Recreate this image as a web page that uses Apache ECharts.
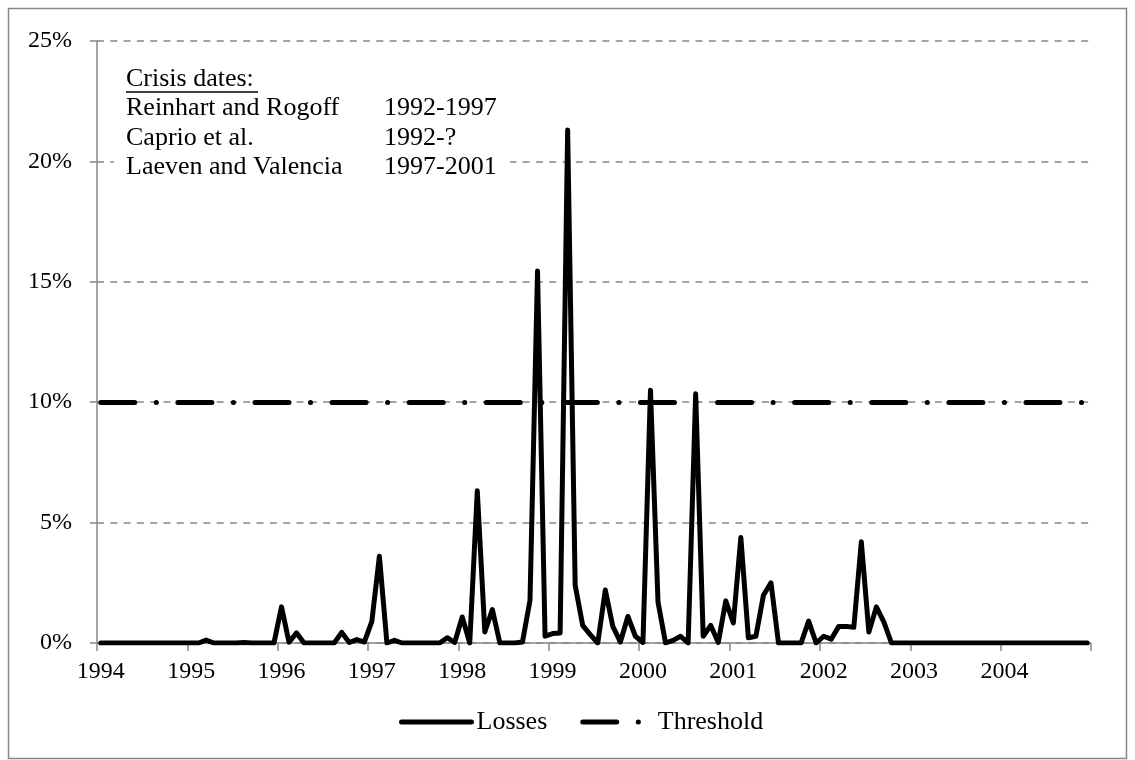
<!DOCTYPE html>
<html>
<head>
<meta charset="utf-8">
<script src="https://cdn.jsdelivr.net/npm/echarts@6/dist/echarts.min.js"></script>
<style>
  html, body { margin: 0; padding: 0; background: #fff; }
  #chart { width: 1135px; height: 760px; }
</style>
</head>
<body>
<div id="chart"></div>
<script>
// ---- Data (monthly, Jan 1994 – Dec 2004), losses in percent ----
const YEARS = ['1994','1995','1996','1997','1998','1999','2000','2001','2002','2003','2004'];
const MONTHS = ['01','02','03','04','05','06','07','08','09','10','11','12'];

const LOSSES_1994 = [0,0,0,0,0,0,0,0,0,0,0,0];
const LOSSES_1995 = [0,0,0.12,0,0,0,0,0.02,0,0,0,0];
const LOSSES_1996 = [1.5,0.03,0.42,0,0,0,0,0,0.44,0.02,0.14,0.04];
const LOSSES_1997 = [0.9,3.6,0,0.11,0,0,0,0,0,0,0.22,0.02];
const LOSSES_1998 = [1.08,0,6.32,0.46,1.39,0,0,0,0.04,1.77,15.45,0.28];
const LOSSES_1999 = [0.39,0.42,21.3,2.4,0.73,0.35,0,2.2,0.69,0.04,1.1,0.28];
const LOSSES_2000 = [0.02,10.5,1.7,0,0.11,0.28,0,10.35,0.28,0.73,0.02,1.75];
const LOSSES_2001 = [0.83,4.38,0.22,0.28,1.98,2.5,0,0,0,0,0.91,0];
const LOSSES_2002 = [0.28,0.16,0.69,0.69,0.65,4.2,0.46,1.5,0.87,0,0,0];
const LOSSES_2003 = [0,0,0,0,0,0,0,0,0,0,0,0];
const LOSSES_2004 = [0,0,0,0,0,0,0,0,0,0,0,0];

const THRESHOLD = 10;

const Y_TICKS = [0, 5, 10, 15, 20, 25];

const CRISIS_TITLE = 'Crisis dates:';
const CRISIS_SOURCES = ['Reinhart and Rogoff', 'Caprio et al.', 'Laeven and Valencia'];
const CRISIS_PERIODS = ['1992-1997', '1992-?', '1997-2001'];

// ---- Build library inputs ----
const categories = [];
YEARS.forEach(y => MONTHS.forEach(m => categories.push(y + '-' + m)));
const losses = [].concat(LOSSES_1994, LOSSES_1995, LOSSES_1996, LOSSES_1997, LOSSES_1998,
  LOSSES_1999, LOSSES_2000, LOSSES_2001, LOSSES_2002, LOSSES_2003, LOSSES_2004);

const FONT = "'Liberation Serif', 'Times New Roman', serif";
const GRAY = '#878787';
const DASH_DOT = [34, 21.5, 0.1, 21.5];

const chart = echarts.init(document.getElementById('chart'), null, { renderer: 'canvas' });

const textEls = [];
// white box behind the annotation text
textEls.push({ type: 'rect', z: 50, shape: { x: 114, y: 56, width: 396, height: 128 }, style: { fill: '#fff' }, silent: true });
textEls.push({ type: 'text', z: 51, x: 126, y: 79, style: { text: CRISIS_TITLE, font: '26px ' + FONT, fill: '#000', verticalAlign: 'middle' } });
textEls.push({ type: 'line', z: 51, shape: { x1: 126, y1: 92, x2: 258, y2: 92 }, style: { stroke: '#000', lineWidth: 1.3 } });
CRISIS_SOURCES.forEach((s, k) => {
  const y = 108.5 + k * 29.5;
  textEls.push({ type: 'text', z: 51, x: 126, y: y, style: { text: s, font: '26px ' + FONT, fill: '#000', verticalAlign: 'middle' } });
  textEls.push({ type: 'text', z: 51, x: 384, y: y, style: { text: CRISIS_PERIODS[k], font: '26px ' + FONT, fill: '#000', verticalAlign: 'middle' } });
});
// outer frame
textEls.push({ type: 'rect', z: 0, shape: { x: 8.5, y: 8.5, width: 1118, height: 750 }, style: { fill: 'none', stroke: GRAY, lineWidth: 1.5 }, silent: true });

const option = {
  animation: false,
  backgroundColor: '#fff',
  textStyle: { fontFamily: FONT },
  grid: { left: 97, right: 44, top: 41, bottom: 117, containLabel: false },
  legend: {
    left: 399,
    top: 709,
    padding: 0,
    itemWidth: 70,
    itemHeight: 14,
    itemGap: 33,
    itemStyle: { color: 'rgba(0,0,0,0)', borderColor: 'rgba(0,0,0,0)', borderWidth: 0 },
    lineStyle: { width: 5 },
    textStyle: { fontFamily: FONT, fontSize: 26, color: '#000' },
    data: ['Losses', 'Threshold']
  },
  xAxis: {
    type: 'category',
    data: categories,
    boundaryGap: true,
    axisLine: { show: true, lineStyle: { color: GRAY, width: 1.5 } },
    axisTick: { show: true, interval: 11, length: 8, lineStyle: { color: GRAY, width: 1.5 } },
    axisLabel: {
      interval: 11,
      margin: 17,
      fontFamily: FONT,
      fontSize: 24,
      color: '#000',
      formatter: v => v.slice(0, 4)
    },
    splitLine: { show: false }
  },
  yAxis: {
    type: 'value',
    min: Y_TICKS[0],
    max: Y_TICKS[Y_TICKS.length - 1],
    interval: Y_TICKS[1] - Y_TICKS[0],
    axisLine: { show: true, lineStyle: { color: GRAY, width: 1.5 } },
    axisTick: { show: true, length: 7, lineStyle: { color: GRAY, width: 1.5 } },
    axisLabel: { margin: 25, fontFamily: FONT, fontSize: 24, color: '#000', formatter: '{value}%' },
    splitLine: { show: true, lineStyle: { color: GRAY, width: 1.5, type: [7, 6.3] } }
  },
  series: [
    {
      name: 'Losses',
      type: 'line',
      data: losses,
      symbol: 'none',
      z: 5,
      lineStyle: { color: '#000', width: 5, join: 'round', cap: 'round' },
      itemStyle: { color: '#000' }
    },
    {
      name: 'Threshold',
      type: 'line',
      data: [],
      symbol: 'none',
      z: 4,
      lineStyle: { color: '#000', width: 5, type: DASH_DOT, cap: 'round' },
      itemStyle: { color: '#000' },
      markLine: {
        silent: true,
        symbol: ['none', 'none'],
        label: { show: false },
        lineStyle: { color: '#000', width: 5, type: DASH_DOT, cap: 'round' },
        emphasis: { disabled: true },
        data: [[{ coord: [categories[0], THRESHOLD] }, { coord: [categories[categories.length - 1], THRESHOLD] }]]
      }
    }
  ],
  graphic: textEls
};

chart.setOption(option);
</script>
</body>
</html>
